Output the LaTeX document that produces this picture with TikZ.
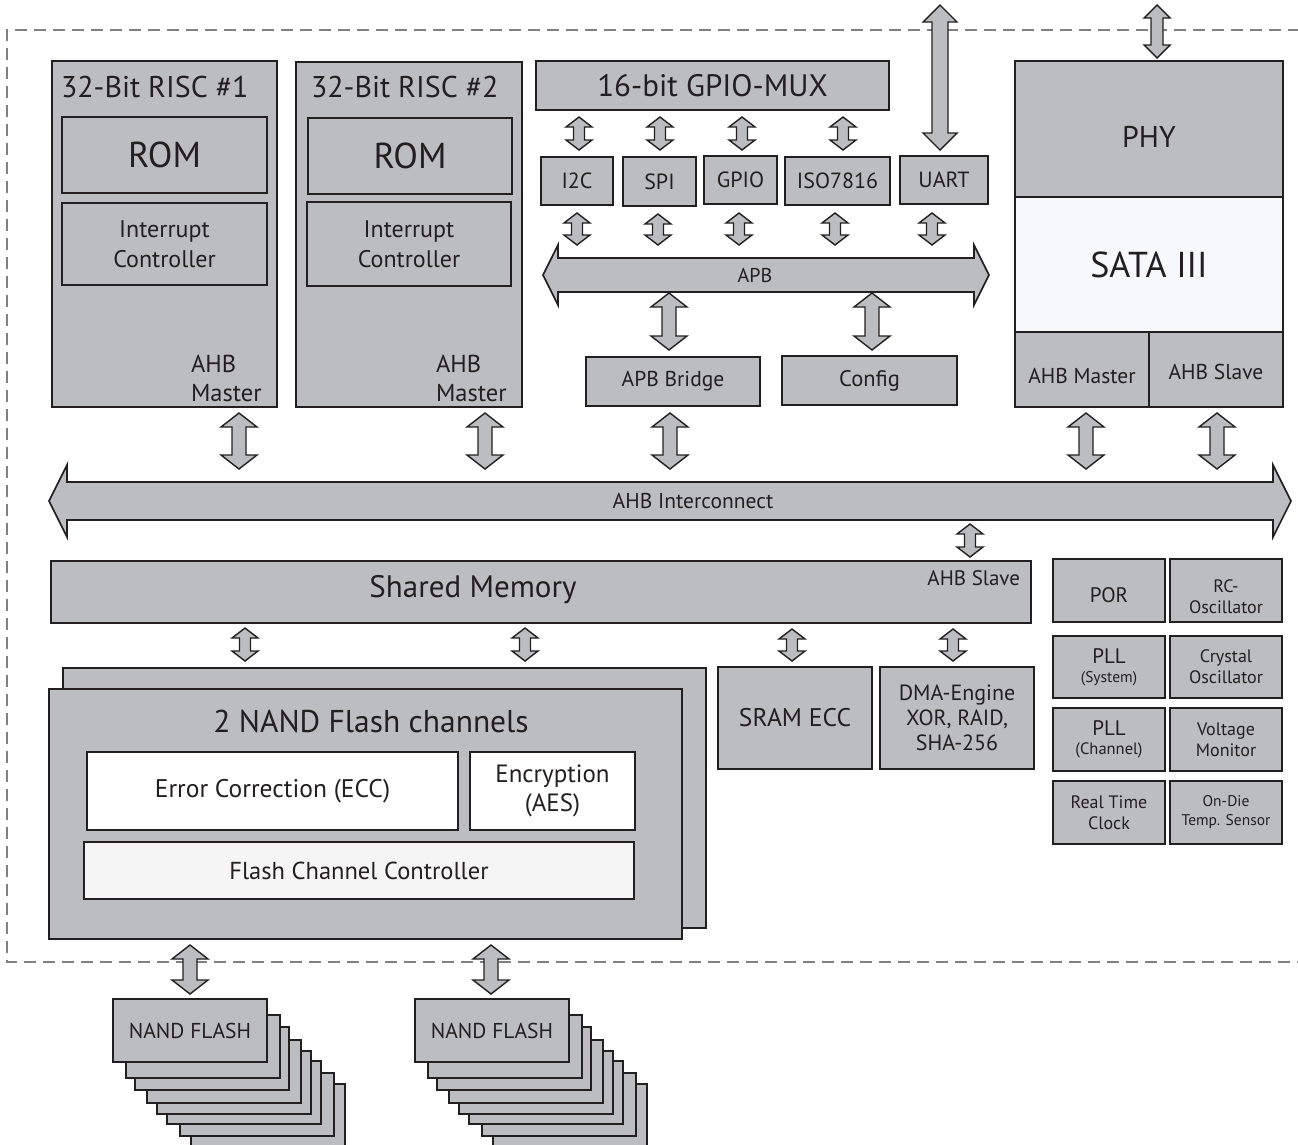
\documentclass[tikz,border=0pt]{standalone}
\usepackage{fontspec}
\setmainfont{PT Sans}
\usetikzlibrary{calc}
\definecolor{ink}{HTML}{231F20}
\definecolor{chip}{HTML}{BCBDC0}
\definecolor{pale}{HTML}{F7F8FA}
\definecolor{paleb}{HTML}{F5F5F5}
\definecolor{frame}{HTML}{808080}
\pgfdeclarelayer{background}
\pgfsetlayers{background,main}

\newcommand\fsz[2]{\fontsize{#1}{#2}\selectfont}

% vertical double-headed block arrow between two anchors
% #1 head half-width, #2 shaft half-width, #3 head length, #4 x,
% #5 upper anchor, #6 lower anchor, #7 upper gap, #8 lower gap
\newcommand\dlink[8]{%
  \path[conn] let \p1=(#5), \p2=(#6) in
    (#4pt,\y1-#7pt)
    -- (#4pt+#1pt,\y1-#7pt-#3pt) -- (#4pt+#2pt,\y1-#7pt-#3pt)
    -- (#4pt+#2pt,\y2+#8pt+#3pt) -- (#4pt+#1pt,\y2+#8pt+#3pt)
    -- (#4pt,\y2+#8pt)
    -- (#4pt-#1pt,\y2+#8pt+#3pt) -- (#4pt-#2pt,\y2+#8pt+#3pt)
    -- (#4pt-#2pt,\y1-#7pt-#3pt) -- (#4pt-#1pt,\y1-#7pt-#3pt) -- cycle;}
\newcommand\smallarrow{\dlink{13}{5.5}{10}}
\newcommand\midarrow{\dlink{18}{7}{14}}
\newcommand\bigarrow{\dlink{17}{8}{17}}
\newcommand\portarrow{\dlink{13}{6}{13}}

% horizontal bus drawn round the body node #1; #2 head extension, #3 head length
\newcommand\busshape[3]{%
  \begin{pgfonlayer}{background}
  \path[bus] let \p1=(#1.south west), \p2=(#1.north east), \p3=(#1.west) in
    (\x1,\y1) -- (\x2,\y1) -- (\x2,\y1-#2) -- (\x2+#3,\y3) -- (\x2,\y2+#2)
    -- (\x2,\y2) -- (\x1,\y2) -- (\x1,\y2+#2) -- (\x1-#3,\y3) -- (\x1,\y1-#2) -- cycle;
  \end{pgfonlayer}}

\tikzset{
  box/.style={draw=ink, fill=chip, line width=1.8pt, inner sep=0pt, outer sep=0pt,
    anchor=north west, align=center, text=ink},
  sub/.style={box, line width=1.3pt},
  lbl/.style={inner sep=0pt, outer sep=0pt, text=ink, align=center},
  conn/.style={draw=ink, fill=chip, line width=1.4pt, line join=miter},
  bus/.style={draw=ink, fill=chip, line width=1.6pt, line join=miter},
  busbody/.style={inner sep=0pt, outer sep=0pt},
  border/.style={draw=frame, line width=1.2pt, dash pattern=on 12pt off 7pt},
}

\begin{document}
\begin{tikzpicture}[x=1pt, y=-1pt]
\useasboundingbox (0,0) rectangle (1298,1144);

% chip outline
\draw[border] (1300,30) -- (7,30) -- (7,962) -- (1300,962);

% ---- CPU cores
\node[box, minimum width=225pt, minimum height=346pt] (risc1) at (52,61) {};
\node[lbl, anchor=base west, font=\fsz{30}{36}] (risc1t) at (61,97) {32-Bit RISC \#1};
\node[sub, minimum width=205pt, minimum height=76pt, font=\fsz{36}{42}] (rom1) at (62,117) {ROM};
\node[sub, minimum width=205pt, minimum height=82pt, font=\fsz{24}{30}] (irq1) at (62,203) {Interrupt\\Controller};
\node[lbl, anchor=west, align=left, font=\fsz{24.5}{29}] (m1) at (191,378) {AHB\\Master};

\node[box, minimum width=226pt, minimum height=345pt] (risc2) at (296,62) {};
\node[lbl, anchor=base west, font=\fsz{30}{36}] (risc2t) at (311,97) {32-Bit RISC \#2};
\node[sub, minimum width=204pt, minimum height=76pt, font=\fsz{36}{42}] (rom2) at (308,118) {ROM};
\node[sub, minimum width=204pt, minimum height=84pt, font=\fsz{24}{30}] (irq2) at (307,202) {Interrupt\\Controller};
\node[lbl, anchor=west, align=left, font=\fsz{24.5}{29}] (m2) at (436,378) {AHB\\Master};

% ---- peripheral block
\node[box, minimum width=353pt, minimum height=49pt, font=\fsz{31}{37}] (mux) at (536,61) {16-bit GPIO-MUX};
\node[box, minimum width=72pt, minimum height=48pt, font=\fsz{22}{26}] (i2c) at (541,157) {I2C};
\node[box, minimum width=73pt, minimum height=49pt, font=\fsz{22}{26}] (spi) at (623,157) {SPI};
\node[box, minimum width=73pt, minimum height=48pt, font=\fsz{22}{26}] (gpio) at (704,156) {GPIO};
\node[box, minimum width=105pt, minimum height=48pt, font=\fsz{22}{26}] (iso) at (785,157) {ISO7816};
\node[box, minimum width=88pt, minimum height=48pt, font=\fsz{22}{26}] (uart) at (900,156) {UART};

\node[busbody, minimum width=416pt, minimum height=34pt] (apb) at (766,275) {};
\busshape{apb}{13pt}{15pt}
\node[lbl, font=\fsz{20}{24}] (apbt) at (755,275) {APB};

\node[box, minimum width=174pt, minimum height=49pt, font=\fsz{21.5}{26}] (bridge) at (586,357) {APB Bridge};
\node[box, minimum width=175pt, minimum height=49pt, font=\fsz{22.5}{27}] (config) at (782,356) {Config};

% ---- SATA
\node[box, minimum width=268pt, minimum height=136pt] (phy) at (1015,61) {};
\node[lbl, font=\fsz{30}{36}] (phyt) at ($(phy.center)+(0,8)$) {PHY};
\node[box, fill=pale, minimum width=268pt, minimum height=135pt, font=\fsz{36}{44}] (sata) at (1015,197) {SATA III};
\node[box, minimum width=134pt, minimum height=75pt] (satam) at (1015,332) {};
\node[lbl, font=\fsz{21.5}{26}] (satamt) at ($(satam.center)+(0,6)$) {AHB Master};
\node[box, minimum width=134pt, minimum height=75pt] (satas) at (1149,332) {};
\node[lbl, font=\fsz{21.5}{26}] (satast) at ($(satas.center)+(0,2)$) {AHB Slave};
\node[box, fill=none, minimum width=268pt, minimum height=346pt] (sataall) at (1015,61) {};

% ---- AHB interconnect
\node[busbody, minimum width=1206pt, minimum height=38pt] (ahb) at (670,501) {};
\busshape{ahb}{17pt}{18pt}
\node[lbl, font=\fsz{21.5}{26}] (ahbt) at (693,501) {AHB Interconnect};

% ---- memory
\node[box, minimum width=980pt, minimum height=62pt] (shm) at (51,561) {};
\node[lbl, font=\fsz{31}{37}] (shmt) at (473,590) {Shared Memory};
\node[lbl, anchor=base east, font=\fsz{21}{25}] (shms) at (1020,585) {AHB Slave};

\node[box, minimum width=154pt, minimum height=102pt, font=\fsz{25.5}{30}] (sram) at (718,667) {SRAM ECC};
\node[box, minimum width=154pt, minimum height=102pt, font=\fsz{22}{25}] (dma) at (880,667) {DMA-Engine\\XOR, RAID,\\SHA-256};

% ---- clocks and housekeeping
\node[box, minimum width=112pt, minimum height=63pt] (por) at (1053,559) {};
\node[lbl, font=\fsz{21}{25}] (port) at ($(por.center)+(0,5)$) {POR};
\node[box, minimum width=112pt, minimum height=63pt] (rcosc) at (1170,559) {};
\node[lbl, font=\fsz{18}{21}] (rcosct) at ($(rcosc.center)+(0,6)$) {RC-\\Oscillator};
\node[box, minimum width=112pt, minimum height=62pt, font=\fsz{21}{19}] (pll1) at (1053,636) {PLL\\{\fsz{15.5}{17}(System)}};
\node[box, minimum width=112pt, minimum height=62pt, font=\fsz{18}{21}] (xosc) at (1170,636) {Crystal\\Oscillator};
\node[box, minimum width=112pt, minimum height=63pt, font=\fsz{21}{19}] (pll2) at (1053,708) {PLL\\{\fsz{16.5}{18}(Channel)}};
\node[box, minimum width=112pt, minimum height=63pt, font=\fsz{18}{21}] (vmon) at (1170,708) {Voltage\\Monitor};
\node[box, minimum width=112pt, minimum height=63pt, font=\fsz{18}{21}] (rtc) at (1053,781) {Real Time\\Clock};
\node[box, minimum width=112pt, minimum height=63pt, font=\fsz{15.5}{19}] (temp) at (1170,781) {On-Die\\Temp. Sensor};

% ---- flash channels
\node[box, minimum width=643pt, minimum height=260pt] (nandb) at (63,668) {};
\node[box, minimum width=633pt, minimum height=250pt] (nand) at (49,689) {};
\node[lbl, anchor=base, font=\fsz{31.5}{37}] (nandt) at (371,732) {2 NAND Flash channels};
\node[sub, fill=white, minimum width=371pt, minimum height=78pt, font=\fsz{25.5}{30}] (ecc) at (87,752) {Error Correction (ECC)};
\node[sub, fill=white, minimum width=165pt, minimum height=78pt, font=\fsz{25}{29}] (aes) at (470,752) {Encryption\\(AES)};
\node[sub, fill=paleb, minimum width=550pt, minimum height=57pt, font=\fsz{24.5}{29}] (fcc) at (84,842) {Flash Channel Controller};

% ---- external NAND devices
\foreach \dx/\dy [count=\i] in {78/85,67/74,54/62,44/52,34/41,22/28,13/16} {
  \node[box, line width=1.5pt, minimum width=154pt, minimum height=63pt] (fa\i) at ({113+\dx},{999+\dy}) {};
  \node[box, line width=1.5pt, minimum width=154pt, minimum height=63pt] (fb\i) at ({415+\dx},{999+\dy}) {};
}
\node[box, line width=1.5pt, minimum width=154pt, minimum height=63pt, font=\fsz{21.5}{26}] (flashA) at (113,999) {NAND FLASH};
\node[box, line width=1.5pt, minimum width=154pt, minimum height=63pt, font=\fsz{21.5}{26}] (flashB) at (415,999) {NAND FLASH};

% ---- connectors
\smallarrow{579}{mux.south}{i2c.north}{7}{7}
\smallarrow{660}{mux.south}{spi.north}{7}{7}
\smallarrow{742}{mux.south}{gpio.north}{7}{6}
\smallarrow{843}{mux.south}{iso.north}{7}{7}

\smallarrow{577}{i2c.south}{apb.north}{8}{13}
\smallarrow{658}{spi.south}{apb.north}{8}{13}
\smallarrow{739}{gpio.south}{apb.north}{9}{13}
\smallarrow{835}{iso.south}{apb.north}{8}{13}
\smallarrow{932}{uart.south}{apb.north}{9}{13}

\coordinate (uartpin) at (940,5);
\bigarrow{940}{uartpin}{uart.north}{0}{6}
\coordinate (sataport) at (1157,5);
\portarrow{1157}{sataport}{phy.north}{0}{3}

\midarrow{669}{apb.south}{bridge.north}{1}{7}
\midarrow{872}{apb.south}{config.north}{1}{6}

\midarrow{239}{risc1.south}{ahb.north}{6}{13}
\midarrow{485}{risc2.south}{ahb.north}{6}{13}
\midarrow{670}{bridge.south}{ahb.north}{7}{13}
\midarrow{1086}{satam.south}{ahb.north}{6}{13}
\midarrow{1217}{satas.south}{ahb.north}{6}{13}

\smallarrow{970}{ahb.south}{shm.north}{4}{4}

\smallarrow{245}{shm.south}{nandb.north}{5}{7}
\smallarrow{525}{shm.south}{nandb.north}{5}{7}
\smallarrow{792}{shm.south}{sram.north}{6}{6}
\smallarrow{953}{shm.south}{dma.north}{6}{6}

\midarrow{190}{nand.south}{flashA.north}{6}{5}
\midarrow{491}{nand.south}{flashB.north}{6}{5}
\end{tikzpicture}
\end{document}
